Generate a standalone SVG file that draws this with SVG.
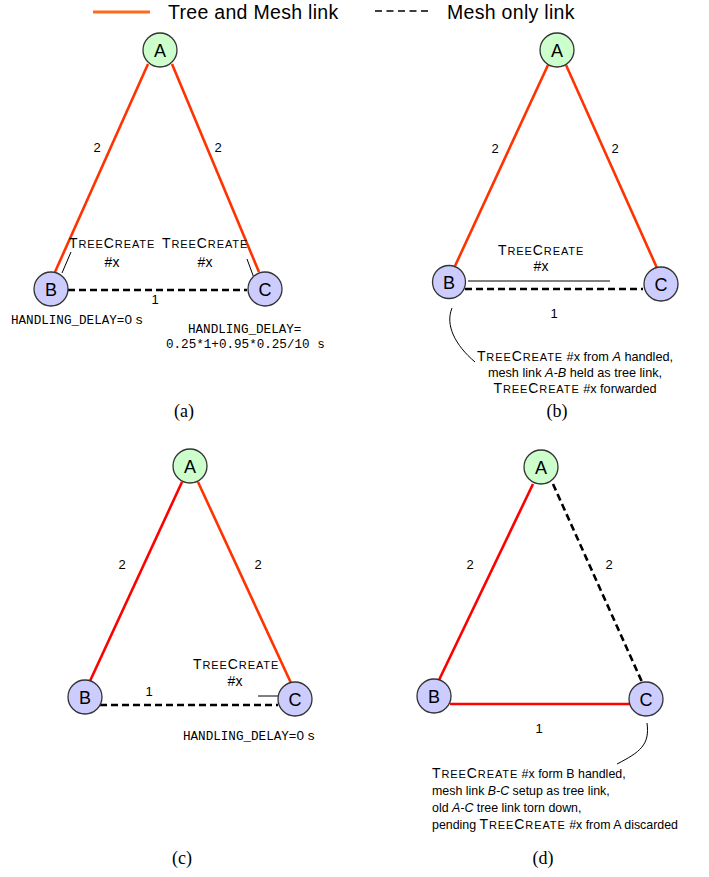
<svg xmlns="http://www.w3.org/2000/svg" width="709" height="877" viewBox="0 0 709 877">
<style>
text{font-family:"Liberation Sans",Arial,sans-serif;fill:#000}
.node{stroke:#333;stroke-width:1.3}
.na{fill:#ccffcc}
.nb{fill:#ccccff}
.nl{font-size:18px;text-anchor:middle}
.tree{stroke:#ff3300;stroke-width:2.6;fill:none}
.red{stroke:#ff0000;stroke-width:2.6;fill:none}
.mesh{stroke:#000;stroke-width:2.6;stroke-dasharray:7 4;fill:none}
.thin{stroke:#000;stroke-width:1;fill:none}
.el{font-size:13px;text-anchor:middle}
.tc{font-size:14px}
.tc tspan{letter-spacing:0.9px}
.s{font-size:11px}
.hx{font-size:14px;text-anchor:middle}
.mono{font-family:"Liberation Mono","Courier New",monospace;font-size:12.6px}
.cap{font-size:12.7px}
.capd{font-size:12.4px}
.pl{font-family:"Liberation Serif","Times New Roman",serif;font-size:18px;text-anchor:middle}
.leg{font-size:19.5px;letter-spacing:0.3px}
</style>

<g id="legend">
<line x1="93" y1="12" x2="150" y2="12" stroke="#ff6a1a" stroke-width="3"/>
<text class="leg" x="168" y="19">Tree and Mesh link</text>
<line x1="375" y1="11" x2="430" y2="11" stroke="#000" stroke-width="1.3" stroke-dasharray="7 4.5"/>
<text class="leg" x="447" y="19">Mesh only link</text>
</g>

<g id="connectors">
<!-- (a) -->
<line class="tree" x1="148" y1="64" x2="55" y2="272"/>
<line class="tree" x1="172" y1="64" x2="259" y2="272"/>
<line class="mesh" x1="68" y1="290" x2="247" y2="290"/>
<line class="thin" x1="71" y1="252" x2="62" y2="273"/>
<line class="thin" x1="247" y1="259" x2="254" y2="278"/>
<!-- (b) -->
<line class="tree" x1="548" y1="65" x2="455" y2="266"/>
<line class="tree" x1="566" y1="65" x2="657" y2="268"/>
<line class="mesh" x1="465" y1="289" x2="643" y2="289"/>
<line class="thin" x1="468" y1="281" x2="610" y2="281"/>
<path class="thin" d="M452,308 C445,325 455,345 475,362"/>
<!-- (c) -->
<line class="red" x1="182" y1="482" x2="90" y2="681"/>
<line class="tree" x1="198" y1="482" x2="291" y2="683"/>
<line class="mesh" x1="100" y1="705" x2="278" y2="705"/>
<line class="thin" x1="258" y1="696" x2="280" y2="696"/>
<!-- (d) -->
<line class="red" x1="533" y1="484" x2="439" y2="680"/>
<line class="mesh" x1="553" y1="484" x2="642" y2="682"/>
<line class="red" x1="450" y1="704" x2="630" y2="704"/>
<path class="thin" d="M647,723 C650,745 640,752 617,764"/>
</g>

<!-- Panel (a) nodes -->
<g id="a-A"><circle class="node na" cx="160" cy="50" r="17"/><text class="nl" x="160" y="56.5">A</text></g>
<g id="a-B"><circle class="node nb" cx="51" cy="289" r="17"/><text class="nl" x="51" y="295.5">B</text></g>
<g id="a-C"><circle class="node nb" cx="265" cy="289" r="17"/><text class="nl" x="265" y="295.5">C</text></g>

<!-- Panel (b) nodes -->
<g id="b-A"><circle class="node na" cx="557" cy="50" r="17"/><text class="nl" x="557" y="56.5">A</text></g>
<g id="b-B"><circle class="node nb" cx="449" cy="282" r="16.5"/><text class="nl" x="449" y="288.5">B</text></g>
<g id="b-C"><circle class="node nb" cx="661" cy="284" r="17"/><text class="nl" x="661" y="290.5">C</text></g>

<!-- Panel (c) nodes -->
<g id="c-A"><circle class="node na" cx="190" cy="466" r="17"/><text class="nl" x="190" y="472.5">A</text></g>
<g id="c-B"><circle class="node nb" cx="85" cy="697" r="17"/><text class="nl" x="85" y="703.5">B</text></g>
<g id="c-C"><circle class="node nb" cx="295" cy="699" r="17"/><text class="nl" x="295" y="705.5">C</text></g>

<!-- Panel (d) nodes -->
<g id="d-A"><circle class="node na" cx="541" cy="467" r="17"/><text class="nl" x="541" y="473.5">A</text></g>
<g id="d-B"><circle class="node nb" cx="434" cy="696" r="17"/><text class="nl" x="434" y="702.5">B</text></g>
<g id="d-C"><circle class="node nb" cx="646" cy="699" r="17"/><text class="nl" x="646" y="705.5">C</text></g>

<g id="labels">
<!-- (a) -->
<text class="el" x="97" y="152">2</text>
<text class="el" x="218" y="152">2</text>
<text class="el" x="155" y="304">1</text>
<text class="tc" x="69" y="248"><tspan>T</tspan><tspan class="s">REE</tspan><tspan>C</tspan><tspan class="s">REATE</tspan></text>
<text class="tc" x="162" y="248"><tspan>T</tspan><tspan class="s">REE</tspan><tspan>C</tspan><tspan class="s">REATE</tspan></text>
<text class="hx" x="112" y="267">#x</text>
<text class="hx" x="205" y="267">#x</text>
<text x="11" y="324"><tspan class="mono">HANDLING_DELAY=</tspan><tspan font-size="13.5px">0 s</tspan></text>
<text class="mono" x="188" y="333">HANDLING_DELAY=</text>
<text class="mono" x="166" y="348">0.25*1+0.95*0.25/10 s</text>
<text class="pl" x="184" y="417">(a)</text>

<!-- (b) -->
<text class="el" x="495" y="153">2</text>
<text class="el" x="615" y="153">2</text>
<text class="el" x="554" y="318">1</text>
<text class="tc" x="498" y="255"><tspan>T</tspan><tspan class="s">REE</tspan><tspan>C</tspan><tspan class="s">REATE</tspan></text>
<text class="hx" x="541" y="271">#x</text>
<text class="cap" x="575" y="361" text-anchor="middle"><tspan font-size="14px" letter-spacing="0.9px">T</tspan><tspan font-size="11px" letter-spacing="0.9px">REE</tspan><tspan font-size="14px" letter-spacing="0.9px">C</tspan><tspan font-size="11px" letter-spacing="0.9px">REATE</tspan> #x from <tspan font-style="italic">A</tspan> handled,</text>
<text class="cap" x="575" y="377" text-anchor="middle">mesh link <tspan font-style="italic">A-B</tspan> held as tree link,</text>
<text class="cap" x="575" y="393" text-anchor="middle"><tspan font-size="14px" letter-spacing="0.9px">T</tspan><tspan font-size="11px" letter-spacing="0.9px">REE</tspan><tspan font-size="14px" letter-spacing="0.9px">C</tspan><tspan font-size="11px" letter-spacing="0.9px">REATE</tspan> #x forwarded</text>
<text class="pl" x="557" y="417">(b)</text>

<!-- (c) -->
<text class="el" x="122" y="569">2</text>
<text class="el" x="258" y="569">2</text>
<text class="el" x="149" y="696">1</text>
<text class="tc" x="193" y="669"><tspan>T</tspan><tspan class="s">REE</tspan><tspan>C</tspan><tspan class="s">REATE</tspan></text>
<text class="hx" x="235" y="686">#x</text>
<text x="183" y="740"><tspan class="mono">HANDLING_DELAY=</tspan><tspan font-size="13.5px">0 s</tspan></text>
<text class="pl" x="182" y="864">(c)</text>

<!-- (d) -->
<text class="el" x="470" y="569">2</text>
<text class="el" x="609" y="569">2</text>
<text class="el" x="539" y="733">1</text>
<text class="capd" x="432" y="778"><tspan font-size="14px" letter-spacing="0.9px">T</tspan><tspan font-size="11px" letter-spacing="0.9px">REE</tspan><tspan font-size="14px" letter-spacing="0.9px">C</tspan><tspan font-size="11px" letter-spacing="0.9px">REATE</tspan> #x form B handled,</text>
<text class="capd" x="432" y="795">mesh link <tspan font-style="italic">B-C</tspan> setup as tree link,</text>
<text class="capd" x="432" y="812">old <tspan font-style="italic">A-C</tspan> tree link torn down,</text>
<text class="capd" x="432" y="829">pending <tspan font-size="14px" letter-spacing="0.9px">T</tspan><tspan font-size="11px" letter-spacing="0.9px">REE</tspan><tspan font-size="14px" letter-spacing="0.9px">C</tspan><tspan font-size="11px" letter-spacing="0.9px">REATE</tspan> #x from A discarded</text>
<text class="pl" x="543" y="864">(d)</text>
</g>
</svg>
